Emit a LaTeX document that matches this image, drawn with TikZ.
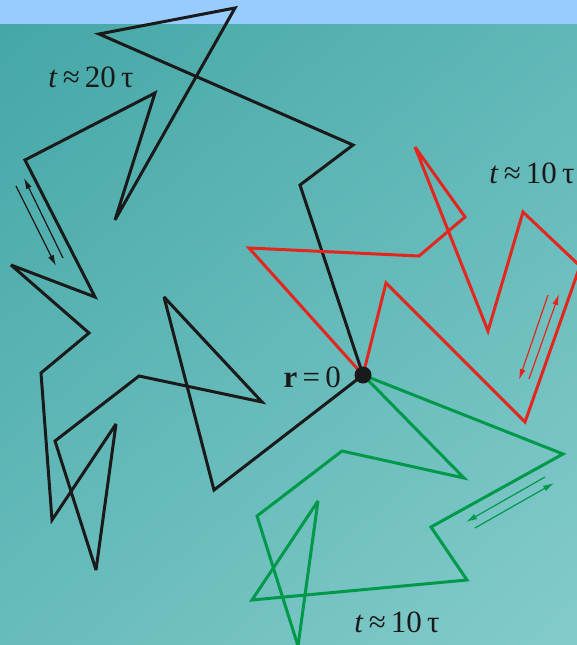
\documentclass[tikz,border=0pt]{standalone}
\usepackage{fontspec}
\setmainfont{Liberation Serif}
\usetikzlibrary{arrows.meta}
\definecolor{bgA}{HTML}{45A8A7}
\definecolor{bgB}{HTML}{82CACA}
\definecolor{band}{HTML}{98CCFE}
\definecolor{wred}{HTML}{E3261E}
\definecolor{wgreen}{HTML}{00994A}
\definecolor{wblack}{HTML}{1A1A1A}
\tikzset{
  walk/.style={line width=3pt, line join=miter, miter limit=4},
  hint/.style={line width=1.2pt, -{Latex[length=11pt,width=6pt]}},
  lbl/.style={font=\fontsize{31}{34}\selectfont, text=wblack, inner sep=0pt}
}
\begin{document}
\begin{tikzpicture}[x=1pt,y=-1pt]
\useasboundingbox (0,0) rectangle (577,645);
\begin{scope}
\clip (0,0) rectangle (577,645);
\shade[top color=bgA, bottom color=bgB, shading angle=40] (-100,-100) rectangle (677,745);
\fill[band] (0,0) rectangle (577,24);
% vertices
\coordinate (O) at (363,375);
% black walk
\foreach \n/\p in {b1/{300,185},b2/{353,145},b3/{99,34},b4/{235,8},b5/{115,220},b6/{155,93},b7/{25,160},b8/{95,297},b9/{11,265},b10/{89,333},b11/{41,373},b12/{52,520},b13/{116,424},b14/{96,570},b15/{55,441},b16/{139,376},b17/{262,402},b18/{164,297},b19/{214,490}}
  {\coordinate (\n) at (\p);}
\draw[walk, wblack] (O) -- (b1) -- (b2) -- (b3) -- (b4) -- (b5) -- (b6) -- (b7) -- (b8) -- (b9) -- (b10) -- (b11) -- (b12) -- (b13) -- (b14) -- (b15) -- (b16) -- (b17) -- (b18) -- (b19) -- cycle;
% red walk
\foreach \n/\p in {r1/{249,248},r2/{419,256},r3/{465,217},r4/{415,147},r5/{488,331},r6/{523,212},r7/{580,266},r8/{525,422},r9/{386,283}}
  {\coordinate (\n) at (\p);}
\draw[walk, wred] (O) -- (r1) -- (r2) -- (r3) -- (r4) -- (r5) -- (r6) -- (r7) -- (r8) -- (r9) -- cycle;
% green walk
\foreach \n/\p in {g1/{563,454},g2/{431,527},g3/{467,580},g4/{252,600},g5/{318,501},g6/{298,646},g7/{257,516},g8/{342,451},g9/{464,478}}
  {\coordinate (\n) at (\p);}
\draw[walk, wgreen] (O) -- (g1) -- (g2) -- (g3) -- (g4) -- (g5) -- (g6) -- (g7) -- (g8) -- (g9) -- cycle;
% direction hints
\coordinate (ba1) at (16,186); \coordinate (ba2) at (56,266);
\coordinate (bb1) at (63,258); \coordinate (bb2) at (24,178);
\draw[hint, wblack] (ba1) -- (ba2);
\draw[hint, wblack] (bb1) -- (bb2);
\coordinate (ra1) at (548,295); \coordinate (ra2) at (519,380);
\coordinate (rb1) at (529,379); \coordinate (rb2) at (559,294);
\draw[hint, wred] (ra1) -- (ra2);
\draw[hint, wred] (rb1) -- (rb2);
\coordinate (ga1) at (545,477); \coordinate (ga2) at (466,522);
\coordinate (gb1) at (475,528); \coordinate (gb2) at (554,483);
\draw[hint, wgreen] (ga1) -- (ga2);
\draw[hint, wgreen] (gb1) -- (gb2);
\end{scope}
\node[circle, fill=wblack, minimum size=17pt, inner sep=0pt] (o) at (O) {};
\node[lbl] (l20) at (91,77) {\textit{t}\,≈\,20\,τ};
\node[lbl] (l10a) at (532,173) {\textit{t}\,≈\,10\,τ};
\node[lbl] (l10b) at (397,622) {\textit{t}\,≈\,10\,τ};
\node[lbl, anchor=east] (lr) at (341,377) {\textbf{r}\,=\,0};
\end{tikzpicture}
\end{document}
